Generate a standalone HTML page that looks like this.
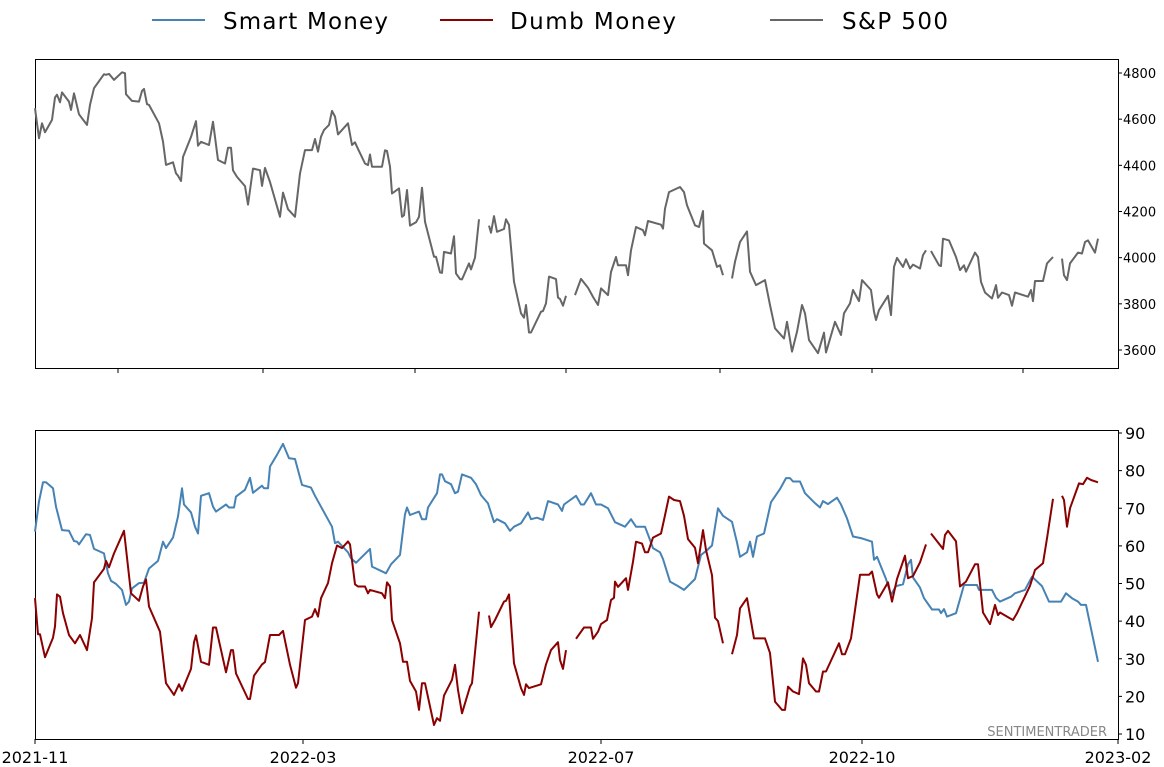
<!DOCTYPE html>
<html><head><meta charset="utf-8">
<style>
html,body{margin:0;padding:0;background:#fff;}
svg{display:block;font-family:"DejaVu Sans","Liberation Sans",sans-serif;}
</style></head>
<body>
<svg id="chart" width="1164" height="767" viewBox="0 0 1164 767" xmlns="http://www.w3.org/2000/svg">
  <g>
    <line x1="152" y1="20" x2="205" y2="20" stroke="#4682b4" stroke-width="2"/>
    <text x="223" y="29" font-size="23" fill="#000" textLength="165">Smart Money</text>
    <line x1="440" y1="20" x2="493" y2="20" stroke="#8b0000" stroke-width="2"/>
    <text x="510" y="29" font-size="23" fill="#000" textLength="166">Dumb Money</text>
    <line x1="770" y1="20" x2="823" y2="20" stroke="#666" stroke-width="2"/>
    <text x="842" y="29" font-size="23" fill="#000" textLength="106">S&amp;P 500</text>
  </g>
  <rect x="35.5" y="59.5" width="1083" height="309" fill="none" stroke="#000" stroke-width="1"/>
  <rect x="35.5" y="430.5" width="1083" height="309" fill="none" stroke="#000" stroke-width="1"/>
  <g id="topPanel"></g>
  <g id="botPanel"></g>
  <text x="1107" y="736" font-size="13" fill="#888" text-anchor="end">SENTIMENTRADER</text>
</svg>
<script>
const spxDays=[0,1.6,2.8,4,6.8,8,8.8,10,10.8,13.6,14.4,15.6,17.6,20.8,22,23.6,27.6,28.4,29.6,31.6,34.8,36,36.4,38.8,41.6,42.8,43.6,44.8,45.6,49.6,51.2,52.4,55.2,56.4,57.2,58.4,59.2,62.4,64.4,65.2,66.4,69.6,71.2,73.2,76,77.2,78.4,79.2,80.8,84,85.2,87.2,90,90.8,92,94,98,99.2,101.2,104,106,108,110.8,112,113.2,114.4,115.6,117.6,118.8,120,121.2,125.2,126.8,128,129.2,132,133.2,134,134.8,138.8,140,140.8,142,142.8,145.6,146.8,147.6,148.8,150,152.4,153.6,154.8,156,156.4,159.6,160.4,162,162.8,163.6,166.4,167.6,168.4,170,170.8,173.6,174.4,176,177.6,179.6,181.6,182.4,183.6,184.8,187.6,188.4,189.6,191.6,194.4,195.6,196.4,197.6,198.4,202.4,203.2,204.4,205.6,208.4,209.2,210,211.2,212.4,214,216,218.4,221.2,223.2,225.2,226.4,229.2,230.4,232.4,233.2,236.4,237.2,238.4,240.4,243.2,244,245.2,250.4,251.2,252,253.6,258,259.6,260.8,264,265.6,267.2,267.6,270.8,272.8,274,275.2,276.8,278.8,280,282,284.8,286,288.4,292,294,296,299.6,300.8,302.8,304.8,306.8,308,309.6,313.2,315.6,316.4,320,322.4,323.6,326,327.2,329.6,330.8,334.4,335.6,336.4,337.6,341.2,342.4,343.6,344.8,347.2,348.4,350,351.2,354,355.2,356.4,357.2,358.4,361.6,362.4,363.2,365.6,368.4,370,371.6,372.4,376,377.2,378.4,380,382.8,384.4,385.2,386.8,389.6,390.8,392,397.2,398.4,399.2,400,403.2,404.8,407.2,408.8,410.8,411.6,412.8,414,417.2,418.8,420,421.2,424,425.2];
const spxValues=[4647,4517,4582,4543,4597,4694,4706,4673,4716,4676,4640,4712,4621,4575,4662,4734,4795,4792,4796,4770,4803,4799,4708,4679,4676,4722,4731,4665,4662,4582,4503,4402,4413,4365,4355,4332,4436,4523,4591,4485,4502,4488,4589,4423,4408,4476,4476,4378,4350,4310,4230,4386,4379,4311,4389,4328,4177,4282,4210,4177,4365,4466,4466,4514,4459,4524,4553,4575,4636,4611,4534,4582,4488,4500,4471,4408,4401,4447,4394,4394,4465,4462,4394,4278,4300,4177,4184,4293,4139,4153,4177,4303,4156,4139,4004,4004,3936,3934,4025,4018,4093,3932,3907,3906,3975,3949,4000,4166,null,4139,4108,4180,4112,4124,4166,4142,3896,3759,3740,3795,3676,3676,3766,3769,3802,3918,3907,3827,3821,3792,3835,null,3838,3908,3870,3830,3795,3867,3838,3938,4003,3967,3967,3924,4032,4133,4119,4097,4159,4143,4126,4212,4284,4306,4284,4227,4140,4133,4202,4061,4032,3960,3967,3924,null,3910,3982,4068,4114,3939,3881,3903,3795,3694,3650,3722,3593,3679,3795,3759,3643,3586,3675,3589,3722,3665,3759,3802,3860,3812,3903,3860,3766,3730,3773,3835,3751,3960,3999,3960,3993,3953,3970,3953,4011,4032,null,4029,3967,3964,4082,4075,4003,3946,3967,3939,4022,4003,3895,3849,3823,3881,3826,3849,3838,3792,3849,3831,3860,3812,3899,3899,3975,4003,null,3996,3924,3903,3975,4022,4018,4068,4075,4022,4082];

const smartDays=[0,1.6,3.2,4.4,7.2,8.4,9.6,10.8,13.6,14.4,15.6,16.8,17.6,20.4,22,23.6,27.6,29.2,30.4,32.4,34.8,36.4,37.6,38.8,41.6,43.6,45.6,49.2,51.2,52.4,55.2,57.2,58.8,59.6,62.4,64,65.2,66.4,69.6,71.2,72.4,76.4,77.6,79.6,80.4,84,86,87.2,90.8,91.6,93.2,94,96.8,99.2,101.6,104,106.8,110.4,112,114.4,118.8,120,121.2,125.2,126.4,128.4,134,134.8,140.4,142.4,146,148,148.8,150,153.6,154.8,156.4,157.2,160.8,162,162.8,164,166.4,168,169.2,170.8,174.4,176.4,178.4,181.2,183.6,184.8,188,190,191.6,194.4,197.2,198.4,200.8,203.2,205.2,209.2,210.8,211.6,216.4,218.4,219.6,222.4,224.4,226.4,229.2,232,236,238.4,240.4,244,246,247.2,250,251.2,254,257.2,259.6,261.6,264,266.4,268.4,270.8,273.2,275.2,278.8,280.8,282,284.8,286,287.2,288.8,291.6,294.4,298,300.4,302,303.2,306,308,311.6,314,315.2,317.2,320.8,322.4,324.8,327.2,330.8,334.8,335.6,336.8,340.4,342.4,344.4,347.2,349.2,350.4,351.2,354,355.6,358.8,361.6,362.4,363.6,364.8,368.4,371.6,376.8,377.6,382.8,384.4,386,390.4,392,396,398.8,402.8,405.6,410.4,412.4,414.8,417.2,418.4,420.4,425.2];
const smartValues=[63.8,71.8,76.9,76.9,75.3,70.4,67.3,64.2,64.0,62.9,61.3,61.1,60.4,63.1,62.9,59.2,58.0,52.7,50.7,49.9,48.3,44.3,45.2,48.7,50.1,50.2,54.0,56.0,61.1,59.4,62.2,67.8,75.3,71.0,68.9,65.1,63.3,73.3,74.0,70.4,69.1,71.0,70.2,70.2,73.1,74.9,78.1,74.1,76.0,75.3,75.3,81.1,84.2,87.1,83.3,83.1,76.2,75.5,73.3,70.4,65.1,60.7,61.1,58.3,56.7,55.5,59.2,54.5,52.7,55.1,57.6,68.4,70.2,68.2,69.1,67.1,67.1,70.2,74.0,79.0,79.0,77.2,76.4,74.0,74.4,79.0,78.1,76.4,73.5,71.3,66.3,67.1,66.0,64.0,65.1,66.0,68.9,67.1,67.5,66.9,71.9,71.0,69.3,71.0,73.3,71.0,71.0,74.0,71.0,71.0,70.0,66.3,65.1,67.1,65.1,65.1,61.6,59.4,58.3,56.5,50.5,49.3,48.3,49.6,51.2,57.6,58.6,60.1,70.0,68.0,66.4,60.9,57.1,58.3,61.1,57.1,62.5,63.3,71.6,75.1,78.0,78.0,77.1,77.1,74.0,71.6,70.2,71.9,71.1,72.8,71.0,67.3,62.5,62.0,61.1,56.3,57.1,51.2,47.0,49.3,49.8,55.1,56.3,51.6,48.9,46.1,43.1,43.1,42.1,43.2,41.2,42.1,49.6,49.6,48.3,48.3,46.2,45.2,46.5,47.4,48.3,51.8,49.3,45.2,45.2,47.4,46.1,45.2,44.3,44.3,29.2];

const dumbDays=[0,1.2,2,4,7.2,8,8.8,10,11.2,13.6,16,18,20.8,22.8,23.6,27.6,28.4,29.6,31.6,35.6,38.4,41.6,43.2,44.4,45.6,50,52.4,55.6,57.6,58.8,62.4,63.6,64.4,66.4,69.6,71.2,72.4,76.4,78.4,79.2,80.4,85.2,86,87.6,90.8,92,94,97.6,99.2,102,104.4,105.2,108,110.8,112,113.2,114.4,117.2,118.8,120.8,122.8,125.2,126,128,129.2,132,133.2,134,138.8,140,140.8,142,142.8,146,147.2,148.8,150,152.4,153.6,154.8,156,159.6,160.8,162,163.6,166.8,168,169.2,170.8,174,174.8,176.4,177.6,179.6,181.6,182.4,184,187.6,188.4,189.6,191.6,194.4,195.6,196.4,197.6,202.4,204.4,206.4,209.2,210,211.2,212.4,214,216.4,219.6,222.4,223.2,225.2,226.4,228.8,230.4,231.6,232,233.2,236.4,237.2,239.2,240.4,242.8,244,245.2,247.2,250.4,251.6,253.6,255.6,258,259.6,261.2,264,265.2,267.2,268.4,270.8,272,273.2,275.2,276.8,278.8,280.8,282,284.8,287.6,292,294,296,298.8,300,301.2,303.2,305.6,307.2,308.4,309.6,312.4,313.6,315.2,316.4,321.6,322.8,324,326.4,330,333.6,334.8,336.8,337.6,341.2,342.8,344.8,348,349.2,351.2,354,356.4,357.6,358.4,363.2,364,365.2,368.4,370,372.4,376,377.2,379.2,382,384,385.2,386,389.6,391.2,392.8,398,400,403.2,404.8,407.2,408.8,410.8,411.6,412.8,414,417.6,419.2,420.8,422.4,425.2];
const dumbValues=[46.1,36.5,36.5,30.4,35.6,38.6,47.1,46.5,42.1,36.3,34.1,36.3,32.3,40.8,50.3,53.9,56.0,54.3,58.0,64.0,47.4,45.4,49.2,51.1,43.9,37.2,23.5,20.4,23.2,21.5,27.3,34.4,36.2,29.2,28.4,38.3,38.3,26.4,32.3,32.3,26.1,19.3,19.3,25.5,28.5,29.1,36.3,36.3,37.4,28.4,22.3,23.5,40.3,41.2,43.2,41.2,46.1,50.1,55.4,60.1,59.4,61.2,60.4,49.8,49.2,49.2,47.4,48.3,47.4,46.1,50.3,49.2,40.3,34.1,29.2,29.2,24.1,21.3,16.4,23.5,23.5,12.4,14.2,13.5,20.2,24.4,28.4,21.7,15.5,22.6,23.5,34.4,42.5,null,41.5,38.4,40.3,45.2,45.4,47.1,28.8,22.2,20.4,23.2,22.2,23.2,28.5,32.3,34.4,29.7,27.3,32.3,null,35.3,38.3,38.3,35.3,37.2,39.2,40.3,45.6,46.2,50.5,49.1,51.4,48.3,55.8,61.1,60.6,58.3,58.3,62.2,63.3,66.9,73.1,72.2,71.9,68.0,61.8,59.5,55.4,64.2,58.9,52.2,40.9,40.0,34.1,null,31.2,36.3,43.4,46.1,35.4,35.4,31.5,18.6,16.4,16.4,22.6,21.3,20.6,30.1,28.4,23.5,21.3,21.3,26.6,26.6,34.1,31.2,31.2,35.4,52.3,52.3,53.2,47.1,46.2,50.3,45.2,51.2,57.4,51.4,52.0,55.6,60.4,null,63.3,59.2,62.9,64.0,61.2,49.2,50.5,55.1,55.1,42.3,39.2,44.3,41.6,42.3,40.9,40.3,42.1,49.4,53.6,55.4,62.0,72.5,null,73.3,72.2,65.1,70.0,76.6,76.4,78.1,77.5,76.9];

const topTickDays=[33.2,91.2,152,212.4,274,334.8,395.2];
const spxTickLabels=[3600,3800,4000,4200,4400,4600,4800];
const botTickDays=[0,107.2,226.4,330.8,433.2];
const botTickLabels=["2021-11","2022-03","2022-07","2022-10","2023-02"];
const sentTickLabels=[10,20,30,40,50,60,70,80,90];

const NS="http://www.w3.org/2000/svg";
function xScale(d){return 35+d*2.5;}
function ySpx(v){return 73+(4800-v)*(277/1200);}
function ySent(v){return 433+(90-v)*(301/80);}
function mk(tag,attrs,parent){const e=document.createElementNS(NS,tag);for(const k in attrs)e.setAttribute(k,attrs[k]);parent.appendChild(e);return e;}
function pathD(days,vals,ys){let d="",pen=false;const n=Math.min(days.length,vals.length);for(let i=0;i<n;i++){if(vals[i]===null||vals[i]===undefined){pen=false;continue;}d+=(pen?"L":"M")+xScale(days[i]).toFixed(1)+" "+ys(vals[i]).toFixed(1);pen=true;}return d;}
const topG=document.getElementById('topPanel'),botG=document.getElementById('botPanel');

const sp=mk('path',{d:pathD(spxDays,spxValues,ySpx),fill:'none',stroke:'#666','stroke-width':2,'stroke-linejoin':'round'},topG);


topTickDays.forEach(d=>{const t=mk('line',{x1:xScale(d),x2:xScale(d),y1:368,y2:373,stroke:'#000'},topG);

});
spxTickLabels.forEach(v=>{const y=ySpx(v);mk('line',{x1:1118,x2:1122,y1:y,y2:y,stroke:'#000'},topG);
const t=mk('text',{x:1123,y:y+5,'font-size':13,fill:'#000'},topG);t.textContent=v;

});

const sm=mk('path',{d:pathD(smartDays,smartValues,ySent),fill:'none',stroke:'#4682b4','stroke-width':2,'stroke-linejoin':'round'},botG);


const dm=mk('path',{d:pathD(dumbDays,dumbValues,ySent),fill:'none',stroke:'#8b0000','stroke-width':2,'stroke-linejoin':'round'},botG);


sentTickLabels.forEach(v=>{const y=ySent(v);mk('line',{x1:1118,x2:1122,y1:y,y2:y,stroke:'#000'},botG);
const t=mk('text',{x:1125,y:y+6,'font-size':16,fill:'#000'},botG);t.textContent=v;

});
botTickDays.forEach((d,i)=>{const x=xScale(d);mk('line',{x1:x,x2:x,y1:739,y2:744,stroke:'#000'},botG);
const t=mk('text',{x:x,y:763,'font-size':16,fill:'#000','text-anchor':'middle'},botG);t.textContent=botTickLabels[i];

});
</script>
</body></html>
